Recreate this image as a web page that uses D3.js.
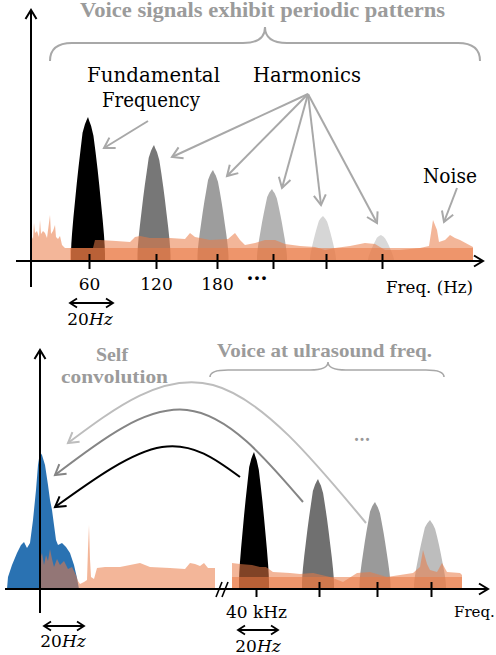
<!DOCTYPE html>
<html lang="en">
<head>
<meta charset="UTF-8">
<title>Voice harmonics and self convolution</title>
<script src="https://d3js.org/d3.v7.min.js"></script>
<style>
  body { margin: 0; background: #fff; }
  svg { display: block; }
</style>
</head>
<body>
<script>
// ---- top panel: audible voice spectrum (x = freq units from the y axis, y = amplitude) ----
const topTickPos = [58, 125, 186, 242, 295, 351];
const topTickLabels = ["60", "120", "180", "", "", ""];
const topPeakFreq = [57, 123, 182, 241, 292, 350];
const topPeakAmp = [144, 116, 91, 72, 45, 26];
const topPeakWidth = [34, 33, 31, 30, 26, 26];
const topNoise = [[0,0],[0,26],[2,22],[3,38],[4,28],[6,30],[8,24],[9,41],[10,27],[12,30],[14,28],[16,23],
  [19,46],[20,27],[22,30],[24,36],[25,24],[27,22],[29,25],[31,16],[34,13],[62,13],[64,21],[69,21],[85,20],
  [99,19],[104,24],[109,25],[119,23],[139,23],[154,22],[159,28],[164,24],[169,23],[179,21],[197,22],[204,28],
  [209,21],[214,16],[224,18],[234,21],[244,21],[254,17],[269,15],[284,14],[294,11],[304,13],[319,15],[334,18],
  [344,17],[354,11],[369,11],[389,13],[398,15],[402,41],[406,31],[408,19],[414,21],[419,26],[424,23],[429,21],
  [442,14],[442,0]];
const topNoiseFloor = [[39,0],[39,13],[442,13],[442,0]];

// ---- bottom panel: voice shifted to ultrasound ----
const botTickPos = [216, 279, 337, 391];
const botTickLabels = ["40 kHz", "", "", ""];
const botPeakFreq = [214, 278, 335, 390];
const botPeakAmp = [137, 110, 87, 69];
const botPeakWidth = [30, 32, 31, 32];
const convPeak = [[-33,0],[-32,12],[-28,24],[-23,36],[-19,44],[-16,47],[-13,41],[-10,46],[-7,69],[-4,99],
  [-2,124],[0,137],[2,134],[5,124],[8,104],[10,89],[12,79],[14,64],[16,49],[18,44],[22,46],[26,42],[30,36],
  [34,24],[37,11],[39,0]];
const botNoiseLow = [[0,0],[0,30],[2,36],[4,24],[6,34],[8,28],[10,40],[12,30],[14,22],[17,30],[20,24],[24,28],
  [28,20],[32,22],[36,14],[38,8],[40,5],[44,7],[47,9],[48,40],[49,64],[50,30],[51,12],[54,10],[57,21],[65,22],
  [80,22],[90,24],[100,26],[110,22],[130,21],[145,20],[150,26],[155,25],[160,23],[164,26],[168,21],[175,21],[175,0]];
const botNoiseHigh = [[192,0],[192,26],[200,25],[212,24],[220,22],[226,22],[233,17],[250,16],[260,15],[273,16],
  [290,12],[303,7],[317,16],[330,17],[347,12],[373,16],[380,22],[383,39],[387,25],[390,19],[397,17],[402,26],
  [407,17],[420,16],[422,14],[422,0]];
const botNoiseFloor = [[192,0],[192,12],[422,12],[422,0]];

// outline shared by the harmonic peaks: [fraction of half width, fraction of height]
const peakProfile = [[-1,0],[-1,0.06],[-0.98,0.12],[-0.94,0.19],[-0.86,0.3],[-0.76,0.42],[-0.66,0.54],
  [-0.56,0.65],[-0.44,0.77],[-0.32,0.89],[-0.18,0.95],[-0.08,0.98],[0,1],[0.08,0.97],[0.18,0.94],[0.32,0.87],
  [0.44,0.76],[0.56,0.64],[0.66,0.53],[0.76,0.41],[0.86,0.29],[0.94,0.18],[0.98,0.11],[1,0.05],[1,0]];

const topShades = ["#000", "#777", "#9d9d9d", "#b3b3b3", "#d6d6d6", "#d9d9d9"];
const botShades = ["#000", "#707070", "#9a9a9a", "#bdbdbd"];
const orange = "#ea7a45";
const gray = "#9b9b9b";

const svg = d3.select("body").append("svg").attr("width", 496).attr("height", 655);
const defs = svg.append("defs");

function chevron(id, color, len, half, sw) {
  defs.append("marker").attr("id", id)
    .attr("viewBox", `${-len - 4} ${-half - 4} ${len + 8} ${2 * half + 8}`)
    .attr("markerWidth", len + 8).attr("markerHeight", 2 * half + 8)
    .attr("markerUnits", "userSpaceOnUse")
    .attr("refX", 0).attr("refY", 0)
    .attr("orient", "auto-start-reverse")
    .style("overflow", "visible")
    .append("path").attr("d", `M${-len},${-half}L0,0L${-len},${half}`)
    .attr("fill", "none").attr("stroke", color).attr("stroke-width", sw);
}
chevron("axisHead", "#000", 9, 5.5, 2);
chevron("grayHead", "#a8a8a8", 10, 6, 2);
chevron("blackHead", "#000", 10, 6, 2);
chevron("darkHead", "#858585", 10, 6, 2);
chevron("lightHead", "#bdbdbd", 10, 6, 2);
chevron("smallHead", "#000", 7, 4.5, 1.8);

// scales
const xTop = d3.scaleLinear().domain([0, 450]).range([31, 481]);
const yTop = d3.scaleLinear().domain([0, 250]).range([261, 11]);
const xBot = d3.scaleLinear().domain([0, 448]).range([40, 488]);
const yBot = d3.scaleLinear().domain([0, 250]).range([589, 339]);

function drawPeaks(g, x, y, freqs, amps, widths, shades) {
  const area = d3.area().x(d => x(d[0])).y0(y(0)).y1(d => y(d[1]));
  g.selectAll(null).data(freqs).join("path")
    .attr("d", (f, i) => area(peakProfile.map(p => [f + p[0] * widths[i] / 2, p[1] * amps[i]])))
    .attr("fill", (f, i) => shades[i]);
}
function drawNoise(g, x, y, pts) {
  const area = d3.area().x(d => x(d[0])).y0(y(0)).y1(d => y(d[1]));
  g.append("path").attr("d", area(pts)).attr("fill", orange).attr("fill-opacity", 0.55);
}
function drawTicks(g, x, y, ticks, labels, firstBelowOnly) {
  const axis = d3.axisBottom(x).tickValues(ticks).tickSizeInner(8).tickSizeOuter(0)
    .tickPadding(9).tickFormat((d, i) => labels[i]);
  const ax = g.append("g").attr("transform", `translate(0,${y(0)})`).call(axis)
    .attr("font-family", "DejaVu Serif").attr("font-size", 17);
  ax.select(".domain").remove();
  ax.selectAll(".tick line").attr("stroke", "#000").attr("stroke-width", 2)
    .attr("y1", (d, i) => (firstBelowOnly && i === 0) ? 0 : -7);
  ax.selectAll(".tick text").attr("fill", "#000");
}
function line(g, p, a, b, color, width, head) {
  const s = p(a), e = p(b);
  const l = g.append("line").attr("x1", s[0]).attr("y1", s[1]).attr("x2", e[0]).attr("y2", e[1])
    .attr("stroke", color).attr("stroke-width", width);
  if (head) l.attr("marker-end", `url(#${head})`);
  return l;
}
function label(g, p, str, at, o) {
  const q = p(at);
  const t = g.append("text").attr("x", q[0]).attr("y", q[1])
    .attr("text-anchor", o.anchor || "middle")
    .attr("font-family", o.family || "DejaVu Serif")
    .attr("font-size", o.size).attr("font-weight", o.weight || "normal")
    .attr("fill", o.color || "#000").text(str);
  if (o.width) t.attr("textLength", o.width).attr("lengthAdjust", "spacingAndGlyphs");
  return t;
}
function brace(g, p, x0, x1, xm, yEnd, yMid, yTip, r, width) {
  const a = p([x0, yEnd]), b = p([x1, yMid]), m = p([xm, yTip]);
  const path = d3.path();
  path.moveTo(a[0], a[1]);
  path.quadraticCurveTo(a[0], b[1], a[0] + r, b[1]);
  path.lineTo(m[0] - r, b[1]);
  path.quadraticCurveTo(m[0], b[1], m[0], m[1]);
  path.quadraticCurveTo(m[0], b[1], m[0] + r, b[1]);
  path.lineTo(b[0] - r, b[1]);
  path.quadraticCurveTo(b[0], b[1], b[0], a[1]);
  g.append("path").attr("d", path.toString()).attr("fill", "none")
    .attr("stroke", "#a8a8a8").attr("stroke-width", width);
}
function hz20(g, p, from, to, textAt) {
  line(g, p, from, to, "#000", 1.8, "smallHead").attr("marker-start", "url(#smallHead)");
  const t = label(g, p, "", textAt, { size: 17 });
  t.append("tspan").text("20");
  t.append("tspan").attr("font-style", "italic").text("Hz");
}

// ================= top panel =================
const gT = svg.append("g");
const pT = d => [xTop(d[0]), yTop(d[1])];

drawPeaks(gT, xTop, yTop, topPeakFreq, topPeakAmp, topPeakWidth, topShades);
drawNoise(gT, xTop, yTop, topNoiseFloor);
drawNoise(gT, xTop, yTop, topNoise);

line(gT, pT, [0, -26], [0, 251], "#000", 2, "axisHead");
line(gT, pT, [-15, 0], [452, 0], "#000", 2, "axisHead");
drawTicks(gT, xTop, yTop, topTickPos, topTickLabels, false);

label(gT, pT, "Voice signals exhibit periodic patterns", [231.5, 244],
  { size: 20, weight: "bold", family: "Liberation Serif", color: gray, width: 365 });
brace(gT, pT, 19, 449, 234, 200, 218, 234, 22, 2);

label(gT, pT, "Fundamental", [122.5, 179], { size: 20, width: 133 });
label(gT, pT, "Frequency", [120, 154], { size: 20, width: 98 });
label(gT, pT, "Harmonics", [276, 179], { size: 20, width: 108 });
label(gT, pT, "Noise", [419, 78], { size: 20, width: 54 });

line(gT, pT, [117, 140], [73, 113], "#a8a8a8", 2, "grayHead");
[[141, 104], [196, 85], [251, 73], [290, 56], [346, 38]].forEach(t =>
  line(gT, pT, [277, 167], t, "#a8a8a8", 2, "grayHead"));
line(gT, pT, [426, 73], [413, 39], "#a8a8a8", 2, "grayHead");

label(gT, pT, "···", [226, -24], { size: 20, weight: "bold" });
label(gT, pT, "Freq. (Hz)", [442, -32], { size: 17, anchor: "end", width: 87 });
hz20(gT, pT, [39, -42], [82, -42], [59, -64]);

// ================= bottom panel =================
const gB = svg.append("g");
const pB = d => [xBot(d[0]), yBot(d[1])];

gB.append("path")
  .attr("d", d3.area().x(d => xBot(d[0])).y0(yBot(0)).y1(d => yBot(d[1]))(convPeak))
  .attr("fill", "#2a72b2");
drawPeaks(gB, xBot, yBot, botPeakFreq, botPeakAmp, botPeakWidth, botShades);
drawNoise(gB, xBot, yBot, botNoiseLow);
drawNoise(gB, xBot, yBot, botNoiseFloor);
drawNoise(gB, xBot, yBot, botNoiseHigh);

line(gB, pB, [0, -24], [0, 239], "#000", 2, "axisHead");
line(gB, pB, [-35, 0], [448, 0], "#000", 2, "axisHead");
line(gB, pB, [176, -8], [182, 7], "#000", 1.6);
line(gB, pB, [182, -8], [188, 7], "#000", 1.6);
drawTicks(gB, xBot, yBot, botTickPos, botTickLabels, true);

label(gB, pB, "Self", [72, 228], { size: 19, weight: "bold", family: "Liberation Serif", color: gray, width: 32 });
label(gB, pB, "convolution", [74.5, 206], { size: 19, weight: "bold", family: "Liberation Serif", color: gray, width: 107 });
label(gB, pB, "Voice at ulrasound freq.", [284.5, 232],
  { size: 19, weight: "bold", family: "Liberation Serif", color: gray, width: 215 });
brace(gB, pB, 170, 404, 288, 212, 219, 227, 18, 1.6);
label(gB, pB, "...", [322, 148], { size: 16, weight: "bold", color: "#999" });

const curve = d3.line().curve(d3.curveNatural);
[
  { pts: [[326, 66], [173, 204], [28, 146]], color: "#bdbdbd", head: "lightHead" },
  { pts: [[263, 87], [147, 179], [15, 114]], color: "#858585", head: "darkHead" },
  { pts: [[200, 112], [122, 142], [15, 82]], color: "#000", head: "blackHead" }
].forEach(a => gB.append("path").attr("d", curve(a.pts.map(pB)))
  .attr("fill", "none").attr("stroke", a.color).attr("stroke-width", 2)
  .attr("marker-end", `url(#${a.head})`));

label(gB, pB, "Freq.", [414, -28], { size: 15, anchor: "start" });
hz20(gB, pB, [4, -37], [44, -37], [23, -58]);
hz20(gB, pB, [198, -41], [238, -41], [218, -63]);
</script>
</body>
</html>
